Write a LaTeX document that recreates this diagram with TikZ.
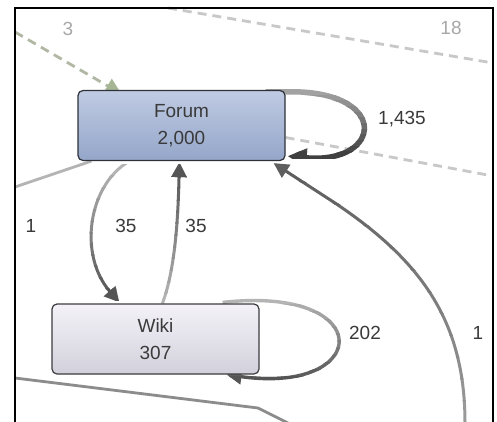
\documentclass[tikz,border=0pt]{standalone}
\usepackage{fontspec}
\setmainfont{Liberation Sans}
\usetikzlibrary{arrows.meta,calc,backgrounds}
\definecolor{forumtop}{HTML}{C0CBE3}
\definecolor{forumbot}{HTML}{94A6C9}
\definecolor{wikitop}{HTML}{F4F2F8}
\definecolor{wikibot}{HTML}{D2D0DB}
\definecolor{nodeborder}{HTML}{2E3238}
\definecolor{wikiborder}{HTML}{3C3C40}
\definecolor{txt}{HTML}{3A3A3A}
\definecolor{lbl}{HTML}{A8A8A8}
\definecolor{dashgray}{HTML}{C8C8C8}
\definecolor{dashgreen}{HTML}{B0B8A4}
\definecolor{tipgreen}{HTML}{A6B594}
\definecolor{lightedge}{HTML}{B4B4B4}
\definecolor{darkedge}{HTML}{555555}
\definecolor{midedge}{HTML}{8C8C8C}
\definecolor{rightlight}{HTML}{999999}
\definecolor{rightdark}{HTML}{5E5E5E}
\definecolor{looplight}{HTML}{A2A2A2}
\definecolor{loopdark}{HTML}{404040}
\tikzset{
  box/.style={draw=nodeborder, line width=1.2pt, rounded corners=5pt,
    minimum width=207pt, minimum height=70pt, inner sep=0pt, align=center,
    text=txt, font=\fontsize{19}{27}\selectfont},
  lab/.style={text=txt, font=\fontsize{19}{20}\selectfont, inner sep=0pt},
  faintlab/.style={lab, text=lbl},
  dashline/.style={line width=2.8pt, dash pattern=on 9pt off 6pt},
  arrowtip/.style={-{Triangle[length=#1, width=#1]}},
}
\newcommand\gradedge[6]{%
  \foreach \i in {0,...,11}{%
    \pgfmathsetmacro\ya{#4+(#5-#4)*\i/12}%
    \pgfmathsetmacro\yb{#4+(#5-#4)*(\i+1)/12}%
    \pgfmathsetmacro\lo{min(\ya,\yb)-0.5}%
    \pgfmathsetmacro\hi{max(\ya,\yb)+0.5}%
    \pgfmathtruncatemacro\pct{round(\i*100/11)}%
    \colorlet{gradcol}{#6!\pct!#3}%
    \begin{scope}
      \clip (0,\lo) rectangle (497,\hi);
      \draw[#1, draw=gradcol] #2;
    \end{scope}
  }%
}
\begin{document}
\begin{tikzpicture}[x=1pt, y=-1pt]
\useasboundingbox (0,0) rectangle (497,421);

\node[box, top color=forumtop, bottom color=forumbot] (Forum) at (181.5,125.5) {Forum\\2,000};
\node[box, top color=wikitop, bottom color=wikibot, draw=wikiborder] (Wiki) at (155.5,339) {Wiki\\307};

\coordinate (d1) at (15,32);
\coordinate (d2) at (168,8);
\coordinate (d3) at (493,63);
\coordinate (d4) at (493,176);
\coordinate (r1) at (465,423);
\coordinate (r2) at (335,203);
\coordinate (l1) at (15,187);
\coordinate (b1) at (15,378);
\coordinate (b2) at (258,408);
\coordinate (b3) at (288,423);

\begin{pgfonlayer}{background}
  \fill[white] (0,0) rectangle (497,421);
  % dashed connectors
  \draw[dashline, draw=dashgreen, -{Triangle[length=16pt, width=16pt, color=tipgreen]}]
    (d1) -- ($(Forum.north west)+(44,4)$);
  \draw[dashline, draw=dashgray] (d2) -- (d3);
  \draw[dashline, draw=dashgray] ($(Forum.east)+(0,12)$) -- (d4);
  % plain connectors
  \draw[line width=2.8pt, draw=lightedge] (l1) -- ($(Forum.south west)+(14,0)$);
  \draw[line width=2.8pt, draw=midedge] (b1) -- (b2) -- (b3);
  \gradedge{line width=3pt, arrowtip=15pt}{(r1) .. controls (465,320) and (420,260) .. (r2) -- ($(Forum.south east)+(-12,2)$)}{rightlight}{423}{160}{rightdark}
  % Forum self loop
  \gradedge{line width=5.5pt, -{Triangle[length=19pt, width=18pt]}}{($(Forum.north east)+(-20,2)$) -- ($(Forum.north east)+(-2,2)$) .. controls (391,88) and (384,165) .. ($(Forum.south east)+(2,-5)$)}{looplight}{90}{158}{loopdark}
  % Forum -> Wiki
  \gradedge{line width=3pt, arrowtip=15pt}{($(Forum.south west)+(52,0)$) .. controls (88,185) and (78,255) .. ($(Wiki.north west)+(68,-1)$)}{lightedge}{165}{300}{darkedge}
  % Wiki -> Forum
  \gradedge{line width=3pt, arrowtip=15pt}{($(Wiki.north west)+(111,0)$) .. controls (175,270) and (178,220) .. ($(Forum.south west)+(102,1)$)}{lightedge}{305}{165}{darkedge}
  % Wiki self loop
  \gradedge{line width=3.4pt, arrowtip=15pt}{($(Wiki.north east)+(-37,-1)$) .. controls (378,285) and (372,395) .. ($(Wiki.south east)+(-33,0)$)}{lightedge}{298}{384}{darkedge}
\end{pgfonlayer}

% labels
\node[faintlab] (l3) at (68,29) {3};
\node[faintlab] (l18) at (451,28) {18};
\node[lab] (l1435) at (402,119) {1,435};
\node[lab] (l1a) at (31,226) {1};
\node[lab] (l35a) at (126,226) {35};
\node[lab] (l35b) at (196,226) {35};
\node[lab] (l202) at (365,333) {202};
\node[lab] (l1b) at (478,333) {1};

% frame
\draw[line width=2pt, black] (15,425) -- (15,8) -- (493,8) -- (493,425);
\end{tikzpicture}
\end{document}
